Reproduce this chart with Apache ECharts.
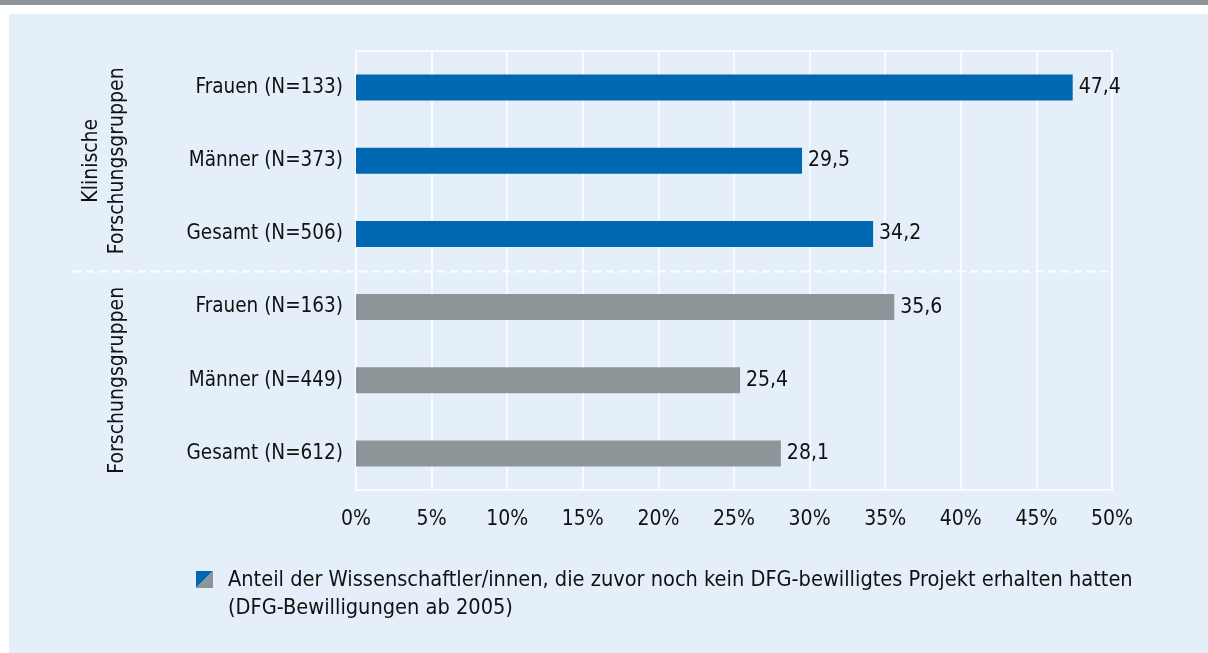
<!DOCTYPE html>
<html>
<head>
<meta charset="utf-8">
<script src="https://cdn.jsdelivr.net/npm/echarts@6/dist/echarts.min.js"></script>
<style>
  html, body { margin: 0; padding: 0; background: #ffffff; }
  #chart { width: 1208px; height: 653px; }
</style>
</head>
<body>
<div id="chart"></div>
<script>
// Rows, top to bottom
const categories = [
  'Frauen (N=133)', 'Männer (N=373)', 'Gesamt (N=506)',
  'Frauen (N=163)', 'Männer (N=449)', 'Gesamt (N=612)'
];
// Share (%) of researchers without a previous DFG-funded project
const values = [47.4, 29.5, 34.2, 35.6, 25.4, 28.1];
// Which group each row belongs to (0 = Klinische Forschungsgruppen, 1 = Forschungsgruppen)
const groupOfRow = [0, 0, 0, 1, 1, 1];
const groupLabels = ['Klinische\nForschungsgruppen', 'Forschungsgruppen'];
const groupColors = ['#0068b2', '#8e9599'];
const xTicks = [0, 5, 10, 15, 20, 25, 30, 35, 40, 45, 50];
const legendLines = [
  'Anteil der Wissenschaftler/innen, die zuvor noch kein DFG-bewilligtes Projekt erhalten hatten',
  '(DFG-Bewilligungen ab 2005)'
];

const FONT = '"DejaVu Sans Condensed", "Liberation Sans Narrow", "Open Sans", sans-serif';
const TEXT = '#111111';

const chart = echarts.init(document.getElementById('chart'), null, { renderer: 'canvas' });

const baseGraphics = [
  { type: 'rect', silent: true, z: -10, shape: { x: 0, y: 0, width: 1208, height: 5 }, style: { fill: '#8e9599' } },
  { type: 'rect', silent: true, z: -10, shape: { x: 9, y: 14, width: 1199, height: 639 }, style: { fill: '#e5eff9' } }
];

const option = {
  animation: false,
  backgroundColor: '#ffffff',
  textStyle: { fontFamily: FONT },
  grid: {
    left: 356, right: 96, top: 51, bottom: 163,
    show: true, borderColor: '#ffffff', borderWidth: 1.5, backgroundColor: 'transparent'
  },
  xAxis: {
    type: 'value',
    min: xTicks[0], max: xTicks[xTicks.length - 1], interval: 5,
    axisLine: { show: false },
    axisTick: { show: false },
    splitLine: { show: true, lineStyle: { color: '#ffffff', width: 1.5 } },
    axisLabel: {
      color: TEXT, fontFamily: FONT, fontSize: 21, margin: 19,
      formatter: v => v + '%'
    }
  },
  yAxis: {
    type: 'category',
    data: categories,
    inverse: true,
    axisLine: { show: false },
    axisTick: { show: false },
    axisLabel: { color: TEXT, fontFamily: FONT, fontSize: 20.5, margin: 13 }
  },
  series: [{
    type: 'bar',
    barWidth: 26,
    data: values.map((v, i) => ({ value: v, itemStyle: { color: groupColors[groupOfRow[i]] } })),
    label: {
      show: true, position: 'right', distance: 6,
      color: TEXT, fontFamily: FONT, fontSize: 21,
      formatter: p => p.value.toFixed(1).replace('.', ',')
    }
  }],
  graphic: baseGraphics
};

chart.setOption(option);

// Overlay: group separator, rotated group titles and the legend
function centerOf(idxs) {
  const ys = idxs.map(i => chart.convertToPixel({ yAxisIndex: 0 }, categories[i]));
  return (Math.min(...ys) + Math.max(...ys)) / 2;
}
const y2 = chart.convertToPixel({ yAxisIndex: 0 }, categories[2]);
const y3 = chart.convertToPixel({ yAxisIndex: 0 }, categories[3]);
const sepY = Math.round((y2 + y3) / 2) + 0.5;
const xRight = chart.convertToPixel({ xAxisIndex: 0 }, xTicks[xTicks.length - 1]);

const rowsOf = g => groupOfRow.map((gg, i) => gg === g ? i : -1).filter(i => i >= 0);

const overlay = baseGraphics.concat([
  {
    type: 'line', silent: true, z: 5,
    shape: { x1: 73, y1: sepY, x2: xRight, y2: sepY },
    style: { stroke: '#ffffff', lineWidth: 2, lineDash: [8, 5] }
  },
  {
    type: 'text', silent: true, x: 105, y: centerOf(rowsOf(0)), rotation: Math.PI / 2,
    style: {
      text: groupLabels[0], fill: TEXT, font: '21px ' + FONT,
      textAlign: 'center', textVerticalAlign: 'middle', lineHeight: 26
    }
  },
  {
    type: 'text', silent: true, x: 118, y: centerOf(rowsOf(1)), rotation: Math.PI / 2,
    style: {
      text: groupLabels[1], fill: TEXT, font: '21px ' + FONT,
      textAlign: 'center', textVerticalAlign: 'middle'
    }
  },
  // legend swatch split diagonally into both bar colours
  { type: 'polygon', silent: true, shape: { points: [[196, 571], [213, 571], [196, 588]] }, style: { fill: groupColors[0] } },
  { type: 'polygon', silent: true, shape: { points: [[213, 571], [213, 588], [196, 588]] }, style: { fill: groupColors[1] } },
  {
    type: 'text', silent: true, x: 228, y: 580,
    style: { text: legendLines[0], fill: TEXT, font: '21.6px ' + FONT, textVerticalAlign: 'middle' }
  },
  {
    type: 'text', silent: true, x: 228, y: 608,
    style: { text: legendLines[1], fill: TEXT, font: '21.6px ' + FONT, textVerticalAlign: 'middle' }
  }
]);

chart.setOption({ graphic: overlay }, { replaceMerge: ['graphic'] });
</script>
</body>
</html>
